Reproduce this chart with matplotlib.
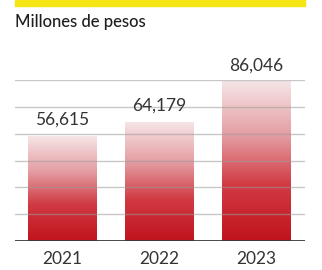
import numpy as np
import matplotlib.pyplot as plt
from matplotlib.colors import LinearSegmentedColormap

plt.rcParams["font.family"] = ["Lato", "DejaVu Sans"]

years = ["2021", "2022", "2023"]
values = [56615, 64179, 86046]
value_labels = ["56,615", "64,179", "86,046"]
title = "Millones de pesos"

fig = plt.figure(figsize=(3.22, 2.70), dpi=100)
ax = fig.add_axes([15/322, 29/270, 290/322, 161/270])

ymax = 87100

# gridlines (drawn over the bars, slightly see-through)
for g in np.linspace(0, ymax, 7)[1:]:
    ax.axhline(g, color="#9a9a9a", alpha=0.55, lw=1.0, zorder=3)
ax.axhline(0, color="#3a3a3a", lw=1.3, zorder=5)

# gradient bars
cmap = LinearSegmentedColormap.from_list(
    "redfade", [(0, "#c0131d"), (0.35, "#d13a43"), (0.65, "#e39a9f"), (1, "#f6e5e6")])
grad = np.linspace(0, 1, 256).reshape(-1, 1)
width = 0.71
for i, v in enumerate(values):
    ax.imshow(grad, cmap=cmap, origin="lower", aspect="auto",
              extent=(i - width/2, i + width/2, 0, v), zorder=2)
    ax.annotate(value_labels[i], (i, v), xytext=(0, 8.5), textcoords="offset points",
                ha="center", va="baseline", fontsize=12.5, color="#333333", zorder=6)
ax.set_xlim(-0.49, 2.5)
ax.set_ylim(0, ymax)

ax.set_xticks(range(len(years)))
ax.set_xticklabels(years, fontsize=12.5, color="#333333")
ax.tick_params(axis="x", length=0, pad=7)
ax.set_yticks([])
for s in ax.spines.values():
    s.set_visible(False)

# yellow strip and subtitle
fig.patches.append(plt.Rectangle((15/322, 264/270), 290/322, 6/270, transform=fig.transFigure,
                                 color="#f6e514", zorder=0))
fig.text(15/322, 1 - 22/270, title, fontsize=12, color="#1e1e1e", va="center", ha="left",
         fontweight="medium")

fig.savefig("out.png", dpi=100)
